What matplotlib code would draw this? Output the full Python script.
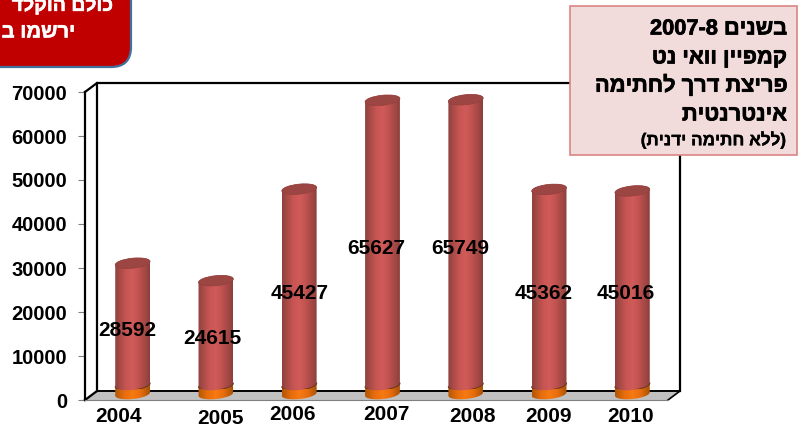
import numpy as np
import matplotlib
matplotlib.use("Agg")
import matplotlib.pyplot as plt
import matplotlib.patheffects as pe
from matplotlib.colors import LinearSegmentedColormap
from matplotlib.patches import Ellipse, FancyBboxPatch, Polygon, Rectangle
from matplotlib.path import Path
from matplotlib.transforms import IdentityTransform, ScaledTranslation

plt.rcParams['font.family'] = ['Liberation Sans', 'DejaVu Sans']

years = ['2004', '2005', '2006', '2007', '2008', '2009', '2010']
values = [28592, 24615, 45427, 65627, 65749, 45362, 45016]
y_ticks = [0, 10000, 20000, 30000, 40000, 50000, 60000, 70000]

note_lines = ['בשנים 2007-8', 'קמפיין וואי נט', 'פריצת דרך לחתימה', 'אינטרנטית']
note_small = '(ללא חתימה ידנית)'
red_lines = ['כולם הוקלד', 'ירשמו ב']

# hand placed text in the original slide, pixels
year_x = [119, 220, 293, 386, 472, 549, 631]
year_y = [416, 418, 415, 415, 416, 416, 416]
label_nudge = [-5, -4, 0, -6, -6, -5, -7]

W, H = 798, 429
BAR_W = 35


def visual(s):
    # matplotlib has no bidi, so hebrew goes in as visual order
    out = s[::-1].translate(str.maketrans('()', ')('))
    parts, run = [], ''
    for ch in out:
        if ch.isdigit() or ch == '-':
            run += ch
        else:
            parts.append(run[::-1])
            run = ''
            parts.append(ch)
    parts.append(run[::-1])
    return ''.join(parts)


def axes_px(left, top, right, bottom, **kw):
    return fig.add_axes([left / W, 1 - bottom / H, (right - left) / W, (bottom - top) / H], **kw)


def ring(cx, cy, a=BAR_W / 2, b=5, deg=6):
    t = np.linspace(0, 2 * np.pi, 81)
    r = np.radians(deg)
    x = a * np.cos(t)
    y = b * np.sin(t)
    return cx + x * np.cos(r) - y * np.sin(r), cy + x * np.sin(r) + y * np.cos(r)


def cylinder(ax, cx, cy_top, cy_bot, cmap):
    # gradient image clipped to the cylinder outline, display coords
    xt, yt = ring(cx, cy_top)
    xb, yb = ring(cx, cy_bot)
    pts = np.r_[np.c_[xt[:41], yt[:41]], np.c_[xb[40:], yb[40:]]]
    clip = Path(np.r_[pts, pts[:1]])
    to_data = ax.transData.inverted()
    (x0, y0), (x1, y1) = to_data.transform([(cx - BAR_W / 2, cy_bot - 9), (cx + BAR_W / 2, cy_top + 9)])
    im = ax.imshow(np.linspace(0, 1, 64).reshape(1, -1), cmap=cmap, aspect='auto',
                   extent=(x0, x1, y0, y1), zorder=3)
    im.set_clip_box(fig.bbox)
    im.set_clip_path(clip, IdentityTransform())


fig = plt.figure(figsize=(W / 100, H / 100), dpi=100)
fig.patch.set_facecolor('white')

red_cmap = LinearSegmentedColormap.from_list(
    'red', ['#8f4240', '#ad4c49', '#c95654', '#d05c5a', '#c25351', '#a94a47', '#8c3f3d'])
orange_cmap = LinearSegmentedColormap.from_list(
    'orange', ['#b05607', '#e56c0c', '#f77a12', '#e66c0c', '#a85207'])

# walls and floor
bg = axes_px(0, 0, W, H, zorder=0)
bg.set_xlim(0, W)
bg.set_ylim(H, 0)
bg.axis('off')
bg.add_patch(Polygon([(85, 400), (97, 391), (680, 391), (668, 400)], fc='#c0c0c0', ec='none'))
bg.plot([97, 97, 680, 680], [391, 83, 83, 391], color='black', lw=1.6)
bg.plot([97, 680], [391, 391], color='black', lw=1.4)
bg.plot([85, 97], [92, 83], color='black', lw=1.6)
bg.plot([85, 97], [400, 391], color='black', lw=1.6)
bg.plot([680, 668], [391, 400], color='black', lw=1.2)

# front plane carries the value axis
front = axes_px(85, 92, 668, 400, zorder=1)
front.patch.set_alpha(0)
front.set_ylim(0, 70000)
front.set_xlim(-0.5, 6.5)
front.set_xticks([])
front.set_yticks(y_ticks)
front.tick_params(axis='y', length=5, color='#808080', pad=8)
for lab in front.get_yticklabels():
    lab.set_fontsize(14.5)
    lab.set_fontweight('bold')
for side in ['top', 'right']:
    front.spines[side].set_visible(False)
front.spines['left'].set_linewidth(1.6)
front.spines['bottom'].set_color('#808080')

# middle plane carries the cylinders
ax = axes_px(91, 81, 674, 389, zorder=2)
ax.patch.set_alpha(0)
ax.axis('off')
ax.set_xlim(-0.5, 6.5)
ax.set_ylim(0, 70000)
fig.canvas.draw()
to_data = ax.transData.inverted()

for i, v in enumerate(values):
    cx, y_base = ax.transData.transform((i, 0))
    _, y_top = ax.transData.transform((i, v))
    y_red = y_base + 4
    cylinder(ax, cx, y_red, y_base - 5, orange_cmap)
    cylinder(ax, cx, y_top, y_red, red_cmap)
    bx, by = ring(cx, y_red)
    seam = to_data.transform(np.c_[bx[40:], by[40:]])
    ax.plot(seam[:, 0], seam[:, 1], color='#6e3a1c', lw=0.8, zorder=4)
    ax.add_patch(Ellipse((cx, y_top), BAR_W, 10, angle=6, fc='#9c4644', ec='#93403e', lw=0.5,
                         transform=IdentityTransform(), zorder=4))
    nudge = ScaledTranslation(label_nudge[i] / 100, -4 / 100, fig.dpi_scale_trans)
    ax.text(i, v / 2, str(v), ha='center', va='center', fontsize=15, fontweight='bold',
            color='black', zorder=6, transform=ax.transData + nudge)

# slide annotations
top = axes_px(0, 0, W, H, zorder=3)
top.patch.set_alpha(0)
top.set_xlim(0, W)
top.set_ylim(H, 0)
top.axis('off')

for yr, x, y in zip(years, year_x, year_y):
    top.text(x, y, yr, ha='center', va='center', fontsize=15, fontweight='bold')

heavy = [pe.withStroke(linewidth=0.5, foreground='black')]
light = [pe.withStroke(linewidth=0.25, foreground='black')]
heavy_white = [pe.withStroke(linewidth=0.4, foreground='white')]

top.add_patch(FancyBboxPatch((-40, -40), 171, 107, boxstyle='round,pad=0,rounding_size=20',
                             fc='#c00000', ec='#41719c', lw=1.6))
for line, x, y, size in zip(red_lines, [113, 75], [5, 32], [14, 14.6]):
    top.text(x, y, visual(line), ha='right', va='center', fontsize=size, fontweight='bold',
             color='white', path_effects=heavy_white)

top.add_patch(Rectangle((570, 6), 227, 149, fc='#f2dcdb', ec='#d98583', lw=1.2))
for line, y in zip(note_lines, [29, 58, 86, 115]):
    top.text(787, y, visual(line), ha='right', va='center', fontsize=15.7, fontweight='bold',
             color='black', path_effects=heavy)
top.text(787, 140, visual(note_small), ha='right', va='center', fontsize=12.3, fontweight='bold',
         color='black', path_effects=light)

fig.savefig('out.png', dpi=100)
